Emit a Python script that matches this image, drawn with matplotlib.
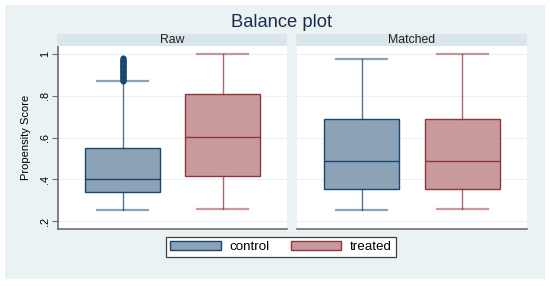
import matplotlib.pyplot as plt
from matplotlib.patches import Patch

# --- Data ---
panels = ["Raw", "Matched"]
groups = ["control", "treated"]

# box statistics per panel: [control, treated]
q1 = {"Raw": [0.339, 0.414], "Matched": [0.355, 0.355]}
med = {"Raw": [0.400, 0.604], "Matched": [0.488, 0.488]}
q3 = {"Raw": [0.552, 0.808], "Matched": [0.690, 0.690]}
whislo = {"Raw": [0.253, 0.258], "Matched": [0.253, 0.258]}
whishi = {"Raw": [0.870, 1.000], "Matched": [0.978, 1.000]}

# outliers of the raw control group
raw_control_outliers = [0.872, 0.876, 0.880, 0.884, 0.888, 0.892, 0.896, 0.900,
                        0.904, 0.908, 0.912, 0.916, 0.920, 0.924, 0.928, 0.932,
                        0.936, 0.940, 0.944, 0.948, 0.952, 0.956, 0.960, 0.964,
                        0.968, 0.972, 0.976, 0.980]
fliers = {"Raw": [raw_control_outliers, []], "Matched": [[], []]}

yticks = [0.2, 0.4, 0.6, 0.8, 1.0]
ytick_labels = [".2", ".4", ".6", ".8", "1"]

# --- Style ---
plt.rcParams['font.family'] = ['Liberation Sans', 'DejaVu Sans']
bg = '#EAF2F3'
strip_col = '#D9E6EB'
edge_cols = ['#1A476F', '#90353B']
fill_cols = ['#8CA3B7', '#C89A9D']
axis_col = '#6E6E6E'

W, H = 550, 286
fig = plt.figure(figsize=(W / 100, H / 100), dpi=100)
fig.patch.set_facecolor('white')


def frac(x0, y0, x1, y1):
    # pixel box -> figure fraction [left, bottom, width, height]
    return [x0 / W, 1 - y1 / H, (x1 - x0) / W, (y1 - y0) / H]


# outer graph region
bg_ax = fig.add_axes(frac(5, 5, 545, 279))
bg_ax.set_facecolor(bg)
bg_ax.set_xticks([])
bg_ax.set_yticks([])
for s in bg_ax.spines.values():
    s.set_visible(False)
bg_ax.set_zorder(-5)

fig.text(281.5 / W, 1 - 22.5 / H, "Balance plot", ha='center', va='center',
         fontsize=13.2, color='#1C2C4C')

panel_x = {"Raw": (58, 287), "Matched": (297, 527)}
positions = [1, 2]

for i, name in enumerate(panels):
    x0, x1 = panel_x[name]
    ax = fig.add_axes(frac(x0, 46, x1, 229))
    ax.set_facecolor('white')
    ax.set_xlim(0.355, 2.645)
    ax.set_ylim(0.162, 1.038)

    for y in yticks:
        ax.axhline(y, color=bg, lw=0.8, zorder=0)

    for g in range(2):
        stats = [{
            "med": med[name][g], "q1": q1[name][g], "q3": q3[name][g],
            "whislo": whislo[name][g], "whishi": whishi[name][g],
            "fliers": fliers[name][g],
        }]
        ax.bxp(stats, positions=[positions[g]], widths=0.75, capwidths=0.51,
               patch_artist=True,
               boxprops=dict(facecolor=fill_cols[g], edgecolor=edge_cols[g], lw=1.0),
               medianprops=dict(color=edge_cols[g], lw=1.0),
               whiskerprops=dict(color=edge_cols[g], lw=1.0, alpha=0.75),
               capprops=dict(color=edge_cols[g], lw=1.6, alpha=0.5),
               flierprops=dict(marker='o', markersize=3.4,
                               markerfacecolor=edge_cols[g],
                               markeredgecolor=edge_cols[g]),
               zorder=2)

    ax.set_xticks([])
    ax.spines['top'].set_visible(False)
    ax.spines['right'].set_visible(False)
    ax.spines['bottom'].set_color(axis_col)
    ax.spines['bottom'].set_linewidth(1.2)
    if i == 0:
        ax.spines['left'].set_color(axis_col)
        ax.spines['left'].set_linewidth(1.2)
        ax.set_yticks(yticks, ytick_labels, rotation=90, va='center',
                      fontsize=7.8)
        ax.tick_params(axis='y', length=4, color=axis_col, pad=2)
        ax.set_ylabel("Propensity Score", fontsize=8, labelpad=6)
    else:
        ax.spines['left'].set_visible(False)
        ax.set_yticks([])

    # strip header
    sax = fig.add_axes(frac(x0 - 1, 34, x1, 45.5))
    sax.set_facecolor(strip_col)
    sax.set_xticks([])
    sax.set_yticks([])
    for s in sax.spines.values():
        s.set_visible(False)
    sax.text(0.5, 0.5, name, ha='center', va='center', fontsize=8.8,
             color='#202020', transform=sax.transAxes)

handles = [Patch(facecolor=fill_cols[g], edgecolor=edge_cols[g], lw=1.0)
           for g in range(2)]
leg = fig.legend(handles, groups, loc='center', ncol=2,
                 bbox_to_anchor=(281 / W, 1 - 247 / H), fontsize=9.6,
                 handlelength=3.8, handleheight=0.7, columnspacing=1.6,
                 handletextpad=0.65, borderpad=0.3, fancybox=False,
                 framealpha=1, edgecolor='#404040')
leg.get_frame().set_linewidth(0.9)

fig.savefig("out.png", dpi=100, facecolor='white')
